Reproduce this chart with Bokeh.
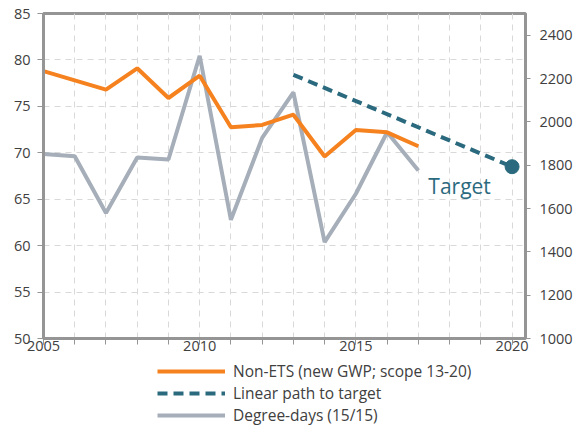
from bokeh.plotting import figure
from bokeh.models import (Range1d, LinearAxis, FixedTicker, Legend, LegendItem,
                          Label, ColumnDataSource)
from bokeh.layouts import column
from bokeh.embed import file_html
from bokeh.resources import INLINE

# ---- data ----
years = [2005, 2006, 2007, 2008, 2009, 2010, 2011, 2012, 2013, 2014, 2015, 2016, 2017]
non_ets = [78.8, 77.8, 76.8, 79.1, 75.9, 78.3, 72.75, 73.0, 74.1, 69.6, 72.45, 72.2, 70.7]
degree_days = [1852, 1841, 1579, 1835, 1826, 2305, 1548, 1926, 2136, 1445, 1668, 1952, 1775]
path_years = [2013, 2020]
path_values = [78.4, 68.5]
target_year = [2020]
target_value = [68.5]

left_ticks = [50, 55, 60, 65, 70, 75, 80, 85]
right_ticks = [1000, 1200, 1400, 1600, 1800, 2000, 2200, 2400]
x_major = [2005, 2010, 2015, 2020]
x_minor = list(range(2005, 2021))
legend_labels = ["Non-ETS (new GWP; scope 13-20)", "Linear path to target", "Degree-days (15/15)"]

ORANGE = "#F5821F"
GRAY = "#A5AEB9"
TEAL = "#2B6A7E"
AXIS = "#959595"
GRID = "#D9D9D9"
TEXT = "#404040"
FONT = "Open Sans"

p = figure(width=576, height=360, output_backend="svg", toolbar_location=None,
           x_range=Range1d(2005, 2020.43), y_range=Range1d(50, 85),
           min_border_left=43, min_border_right=51, min_border_top=13, min_border_bottom=22)
p.extra_y_ranges = {"right": Range1d(1000, 2500)}

p.background_fill_color = "white"
p.border_fill_color = "white"
p.outline_line_color = AXIS
p.outline_line_width = 3

p.xgrid.ticker = FixedTicker(ticks=x_minor)
p.ygrid.ticker = FixedTicker(ticks=left_ticks)
for g in (p.xgrid, p.ygrid):
    g.grid_line_color = GRID
    g.grid_line_dash = "6 5"
    g.grid_line_width = 1

xa = p.xaxis[0]
xa.ticker = FixedTicker(ticks=x_major, minor_ticks=x_minor)
ya = p.yaxis[0]
ya.ticker = FixedTicker(ticks=left_ticks)

ra = LinearAxis(y_range_name="right", ticker=FixedTicker(ticks=right_ticks))
p.add_layout(ra, "right")

for ax in (xa, ya, ra):
    ax.axis_line_color = AXIS
    ax.axis_line_width = 3
    ax.major_tick_line_color = AXIS
    ax.major_tick_line_width = 1
    ax.minor_tick_line_color = AXIS
    ax.major_tick_in = 0
    ax.major_tick_out = 6
    ax.minor_tick_in = 0
    ax.minor_tick_out = 0
    ax.major_label_text_font = FONT
    ax.major_label_text_font_size = "14.5px"
    ax.major_label_text_color = TEXT
xa.minor_tick_out = 6
xa.major_label_standoff = -4
ya.major_label_standoff = 7
ra.major_label_standoff = 9
ra.major_tick_out = 5

src1 = ColumnDataSource(dict(x=years, y=non_ets))
src2 = ColumnDataSource(dict(x=years, y=degree_days))
src3 = ColumnDataSource(dict(x=path_years, y=path_values))

p.line("x", "y", source=src2, y_range_name="right", line_color=GRAY, line_width=4)
p.line("x", "y", source=src1, line_color=ORANGE, line_width=4)
p.line("x", "y", source=src3, line_color=TEAL, line_width=4, line_dash="10 6")
p.scatter(target_year, target_value, size=14, fill_color=TEAL, line_color=TEAL)

p.add_layout(Label(x=2017.32, y=66.4, text="Target", text_color=TEAL,
                   text_font=FONT, text_font_size="21px", text_baseline="alphabetic"))

# ---- legend strip below the chart ----
lf = figure(width=576, height=68, output_backend="svg", toolbar_location=None,
            x_range=Range1d(0, 1), y_range=Range1d(0, 1),
            x_axis_type=None, y_axis_type=None,
            min_border_left=0, min_border_right=0, min_border_top=0, min_border_bottom=0)
lf.outline_line_color = None
lf.background_fill_color = "white"
lf.border_fill_color = "white"
l1 = lf.line(x=[-5, -4], y=[-5, -4], line_color=ORANGE, line_width=4)
l2 = lf.line(x=[-5, -4], y=[-5, -4], line_color=TEAL, line_width=4, line_dash="10 6")
l3 = lf.line(x=[-5, -4], y=[-5, -4], line_color=GRAY, line_width=4)

legend = Legend(items=[
    LegendItem(label=legend_labels[0], renderers=[l1]),
    LegendItem(label=legend_labels[1], renderers=[l2]),
    LegendItem(label=legend_labels[2], renderers=[l3]),
], location=(114, 2))
legend.glyph_width = 68
legend.glyph_height = 22
legend.label_height = 22
legend.spacing = 0
legend.padding = 0
legend.margin = 0
legend.label_standoff = 8
legend.label_text_font = FONT
legend.label_text_font_size = "15.5px"
legend.label_text_color = TEXT
legend.border_line_color = None
legend.background_fill_alpha = 0
lf.add_layout(legend, "center")

layout = column(p, lf, spacing=0)
open("out.html", "w").write(file_html(layout, INLINE))
